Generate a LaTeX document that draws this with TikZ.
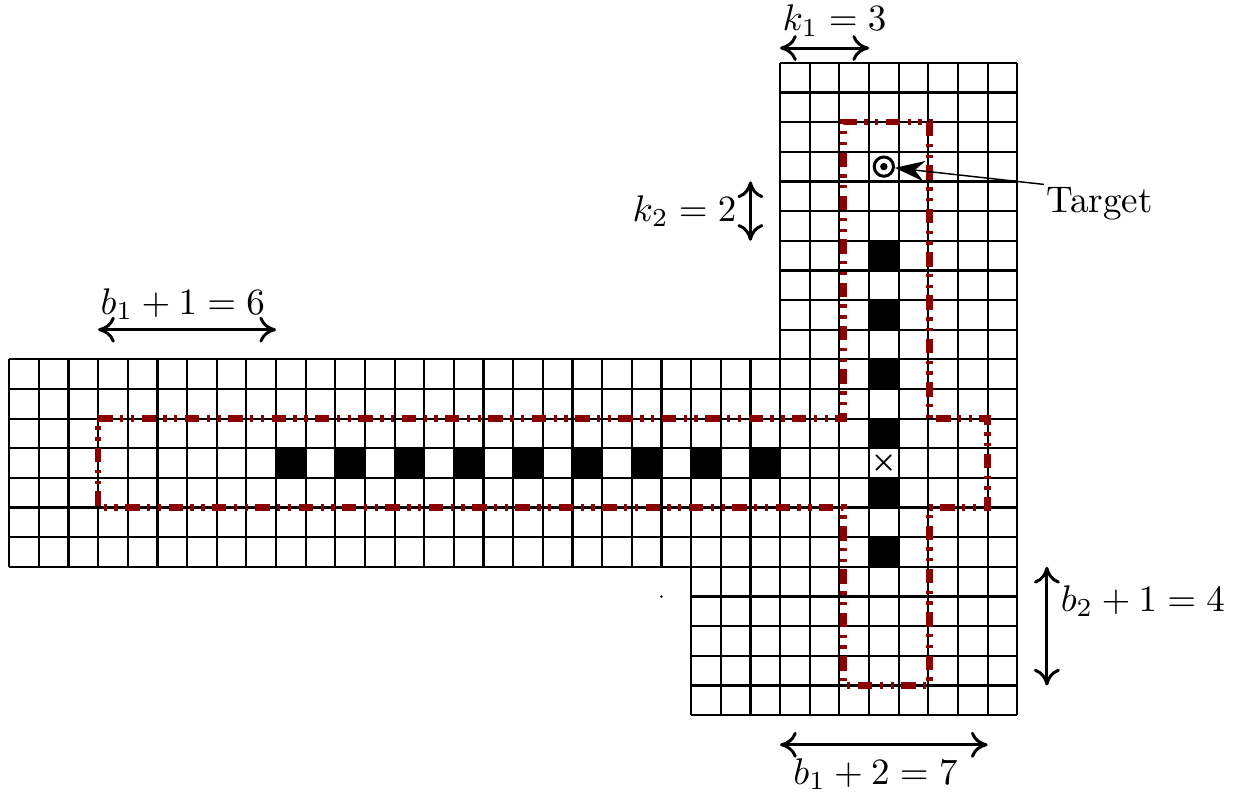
\documentclass[tikz,border=0pt]{standalone}
\usepackage{amsmath}
\usepackage{xcolor}
\usetikzlibrary{arrows.meta,positioning}
\definecolor{darkred}{RGB}{139,0,0}

\begin{document}
\begin{tikzpicture}[
   x=8pt,y=8pt,
   >={To[length=4.5pt,width=7pt]},
   cell/.style={line width=0.6pt,step=1},
   blk/.style={fill=black},
   region/.style={darkred,line width=1.8pt,
                  dash pattern=on 3.9pt off 2pt on 0.9pt off 2pt on 0.9pt off 2pt},
   dim/.style={<->,thick},
   tgt/.style={-{Stealth[length=8pt,width=5.5pt]},thin}
  ]
  \useasboundingbox (-0.31,-2.65) rectangle (41.31,24.12);

  \draw[cell] (0,5) grid (34,12);
  \draw[cell] (26,5) grid (34,22);
  \draw[cell] (23,0) grid (34,5);
  \foreach \i in {9,11,...,25} \fill[blk] (\i,8) rectangle ++(1,1);
  \foreach \j in {5,7,...,15} \fill[blk] (29,\j) rectangle ++(1,1);

  \node[font=\scriptsize\boldmath,inner sep=0pt] (start) at (29.5,8.5) {$\times$};
  \node[circle,draw,thick,minimum size=5.2pt,inner sep=0pt] (goal) at (29.5,18.5) {};
  \fill (goal.center) circle (1pt);
  \fill (22,4) circle (0.35pt);

  \draw[region] (3,10) -- (28.15,10) -- (28.15,20) -- (31.03,20) -- (31.03,10)
     -- (33,10) -- (33,7) -- (31.03,7) -- (31.03,1) -- (28.15,1) -- (28.15,7)
     -- (3,7) -- cycle;

  \node[anchor=north west,inner sep=0.5pt] (tlabel) at (34.9,17.9) {Target};
  \draw[tgt] (tlabel.north west) -- (goal);

  \coordinate (k1a) at (26,22.5);
  \coordinate (k1b) at (29,22.5);
  \draw[dim] (k1a) -- (k1b);
  \node[anchor=south west,inner xsep=0.5pt,inner ysep=3pt] (k1) at (k1a) {$k_1 = 3$};

  \coordinate (k2a) at (25,18);
  \coordinate (k2b) at (25,16);
  \draw[dim] (k2a) -- node[left] (k2) {$k_2 = 2$} (k2b);

  \coordinate (b1a) at (3,13);
  \coordinate (b1b) at (9,13);
  \draw[dim] (b1a) -- (b1b);
  \node[anchor=south west,inner xsep=0.5pt,inner ysep=2.5pt] (b1) at (b1a) {$b_1 + 1 = 6$};

  \coordinate (b2a) at (35,5);
  \coordinate (b2b) at (35,1);
  \draw[dim] (b2a) -- node[pos=0.29,right] (b2) {$b_2 + 1 = 4$} (b2b);

  \coordinate (b3a) at (26,-1);
  \coordinate (b3b) at (33,-1);
  \draw[dim] (b3a) -- node[pos=0.46,below] (b3) {$b_1 + 2 = 7$} (b3b);
\end{tikzpicture}
\end{document}
